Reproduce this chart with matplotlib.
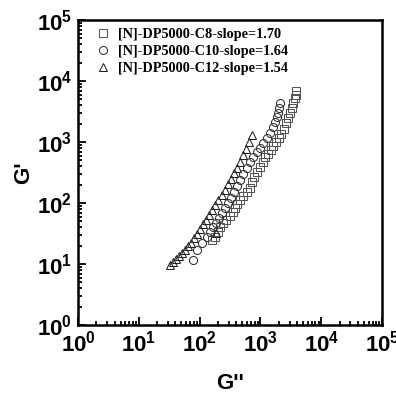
import math
import matplotlib
matplotlib.use('Agg')
import matplotlib.pyplot as plt
from matplotlib.ticker import LogLocator, FuncFormatter, NullFormatter

# G'' and G'
c8_g2 = [158, 178, 200, 219, 240, 275, 316, 347, 380, 417, 457, 525, 589, 661, 724,
         794, 891, 977, 1096, 1202, 1318, 1479, 1622, 1820, 1995, 2188, 2399, 2630,
         2884, 3090, 3311, 3467, 3631, 3802, 3890]
c8_g1 = [24.5, 28.2, 33.1, 39.8, 46.8, 52.5, 60.3, 70.8, 83.2, 95.5, 112, 132, 151, 178,
         219, 269, 324, 389, 479, 562, 646, 741, 851, 1000, 1148, 1380, 1660, 2042,
         2512, 3020, 3631, 4365, 5248, 6026, 6918]

c10_g2 = [78, 91, 110, 132, 148, 166, 186, 209, 234, 263, 295, 331, 372, 417, 468, 525,
          589, 676, 759, 871, 977, 1096, 1259, 1445, 1585, 1738, 1862, 1950, 2042, 2089]
c10_g1 = [11.7, 17.0, 21.9, 27.5, 33.1, 39.8, 47.9, 57.5, 69.2, 83.2, 100, 123, 151, 191,
          240, 302, 372, 468, 575, 692, 813, 955, 1148, 1413, 1738, 2138, 2570, 3020,
          3631, 4365]

c12_g2 = [186, 32.4, 36.3, 40.7, 45.7, 51.3, 57.5, 64.6, 72.4, 81.3, 91.2, 102, 115, 129,
          145, 162, 182, 204, 229, 257, 288, 324, 363, 407, 457, 513, 575, 646, 724]
c12_g1 = [32.4, 9.55, 10.7, 12.0, 13.5, 15.1, 17.0, 19.5, 22.4, 26.3, 30.9, 37.2, 44.7,
          53.7, 64.6, 77.6, 93.3, 112, 135, 166, 204, 251, 309, 380, 468, 603, 776, 1000,
          1288]

labels = ['[N]-DP5000-C8-slope=1.70', '[N]-DP5000-C10-slope=1.64',
          '[N]-DP5000-C12-slope=1.54']

plt.rcParams['font.family'] = ['Liberation Sans', 'DejaVu Sans']
plt.rcParams['font.weight'] = 'bold'

fig = plt.figure(figsize=(3.96, 3.94), dpi=100)
ax = fig.add_axes([0.197, 0.175, 0.768, 0.774])

mk = dict(linestyle='none', markerfacecolor='none', markersize=5.8, markeredgewidth=0.75)
ax.plot(c8_g2, c8_g1, marker='s', color='#555555', label=labels[0], **mk)
ax.plot(c10_g2, c10_g1, marker='o', color='#333333', label=labels[1], **mk)
ax.plot(c12_g2, c12_g1, marker='^', color='#222222', label=labels[2], **mk)

ax.set_xscale('log')
ax.set_yscale('log')
ax.set_xlim(1, 1e5)
ax.set_ylim(1, 1e5)

fmt = FuncFormatter(lambda v, p: r'$\mathregular{10^{%d}}$' % round(math.log10(v)))
for axis in (ax.xaxis, ax.yaxis):
    axis.set_major_locator(LogLocator(base=10, numticks=10))
    axis.set_minor_locator(LogLocator(base=10, subs=range(2, 10), numticks=10))
    axis.set_major_formatter(fmt)
    axis.set_minor_formatter(NullFormatter())

ax.tick_params(which='both', direction='in', top=False, right=False, width=1.3)
ax.tick_params(which='major', length=6, labelsize=16, pad=4)
ax.tick_params(which='minor', length=3)
for s in ax.spines.values():
    s.set_linewidth(1.8)

ax.set_xlabel("G''", fontsize=16, fontweight='bold', labelpad=12)
ax.set_ylabel("G'", fontsize=16, fontweight='bold', labelpad=2)

ax.legend(loc='upper left', frameon=False, bbox_to_anchor=(0.013, 1.015),
          prop={'family': 'Liberation Serif', 'weight': 'bold', 'size': 10.3},
          handletextpad=0.4, labelspacing=0.25, handlelength=1.2)

fig.savefig('out.png', dpi=100)
